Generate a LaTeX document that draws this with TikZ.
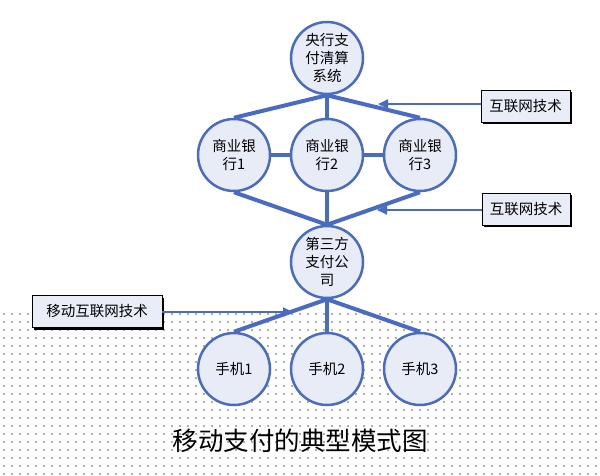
\documentclass[tikz,border=0pt]{standalone}
\usepackage{fontspec}
\newfontfamily\cjk{Noto Sans CJK SC}
\usetikzlibrary{arrows.meta,shadows}
\definecolor{lineblue}{RGB}{74,107,196}
\definecolor{circfill}{RGB}{232,236,247}
\definecolor{boxfill}{RGB}{233,237,248}
\definecolor{dotgray}{RGB}{175,175,175}
\begin{document}
\begin{tikzpicture}[x=1pt,y=-1pt,
 circ/.style={circle,draw=lineblue,line width=2.5pt,fill=circfill,minimum size=72pt,inner sep=0pt,align=center,font=\cjk\fontsize{14.5}{18}\selectfont},
 lbox/.style={draw=black,line width=0.6pt,fill=boxfill,minimum height=32pt,inner sep=0pt,font=\cjk\fontsize{14.5}{16}\selectfont,general shadow={fill=black,shadow xshift=2pt,shadow yshift=-2pt}},
 conn/.style={lineblue,line width=4pt},
 arr/.style={lineblue,line width=1.8pt,-{Triangle[length=10pt,width=9pt]}}]
\useasboundingbox (0,0) rectangle (600,476);
\fill[white] (0,0) rectangle (600,476);
\foreach \i in {0,...,74}{\foreach \j in {0,...,20}{\fill[dotgray] (3.3+8*\i,313.3+8*\j) rectangle ++(1.4,1.4);}}
% nodes
\node[circ] (top) at (327,58) {央行支\\付清算\\系统};
\node[circ] (b1) at (234,155) {商业银\\行1};
\node[circ] (b2) at (327,155) {商业银\\行2};
\node[circ] (b3) at (420,155) {商业银\\行3};
\node[circ] (tp) at (327,262) {第三方\\支付公\\司};
\node[circ] (p1) at (234,369) {手机1};
\node[circ] (p2) at (327,369) {手机2};
\node[circ] (p3) at (420,369) {手机3};
% connectors
\draw[conn] (top.south) -- (b1.north);
\draw[conn] (top.south) -- (b2.north);
\draw[conn] (top.south) -- (b3.north);
\draw[conn] (b1.east) -- (b2.west);
\draw[conn] (b2.east) -- (b3.west);
\draw[conn] (b1.south) -- (tp.north);
\draw[conn] (b2.south) -- (tp.north);
\draw[conn] (b3.south) -- (tp.north);
\draw[conn] (tp.south) -- (p1.north);
\draw[conn] (tp.south) -- (p2.north);
\draw[conn] (tp.south) -- (p3.north);
% label boxes
\node[lbox,minimum width=89pt] (x1) at (525.5,106.5) {互联网技术};
\node[lbox,minimum width=88pt] (x2) at (526,209) {互联网技术};
\node[lbox,minimum width=130pt] (x3) at (97,311.5) {移动互联网技术};
\coordinate (t1) at (378,104);
\coordinate (t2) at (377,210);
\coordinate (t3) at (293,312);
\draw[arr] (x1.west |- t1) -- (t1);
\draw[arr] (x2.west |- t2) -- (t2);
\draw[arr] (x3.east |- t3) -- (t3);
% caption
\node[font=\cjk\fontsize{25.5}{30}\selectfont] (cap) at (300,441) {移动支付的典型模式图};
\end{tikzpicture}
\end{document}
